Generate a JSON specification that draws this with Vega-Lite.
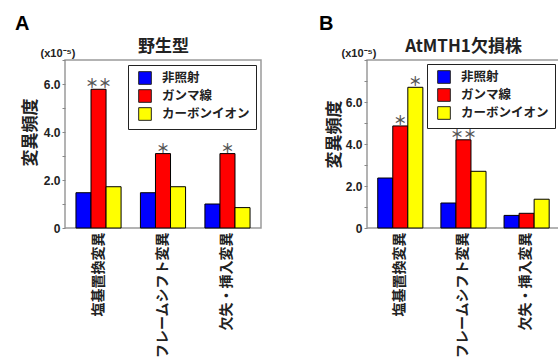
{
  "$schema": "https://vega.github.io/schema/vega-lite/v6.json",
  "padding": {"left": 14, "top": 13, "right": 0, "bottom": 0},
  "background": "white",
  "config": {
    "font": "Noto Sans CJK JP",
    "view": {"stroke": "#9a9a9a", "strokeWidth": 1.5},
    "axis": {"grid": false},
    "legend": {"title": null}
  },
  "datasets": {
    "wt": [
      {"mutation": "塩基置換変異", "treatment": "非照射", "value": 1.47, "sig": ""},
      {"mutation": "塩基置換変異", "treatment": "ガンマ線", "value": 5.78, "sig": "＊＊"},
      {"mutation": "塩基置換変異", "treatment": "カーボンイオン", "value": 1.72, "sig": ""},
      {"mutation": "フレームシフト変異", "treatment": "非照射", "value": 1.47, "sig": ""},
      {"mutation": "フレームシフト変異", "treatment": "ガンマ線", "value": 3.1, "sig": "＊"},
      {"mutation": "フレームシフト変異", "treatment": "カーボンイオン", "value": 1.72, "sig": ""},
      {"mutation": "欠失・挿入変異", "treatment": "非照射", "value": 1.0, "sig": ""},
      {"mutation": "欠失・挿入変異", "treatment": "ガンマ線", "value": 3.1, "sig": "＊"},
      {"mutation": "欠失・挿入変異", "treatment": "カーボンイオン", "value": 0.85, "sig": ""}
    ],
    "mut": [
      {"mutation": "塩基置換変異", "treatment": "非照射", "value": 2.38, "sig": ""},
      {"mutation": "塩基置換変異", "treatment": "ガンマ線", "value": 4.86, "sig": "＊"},
      {"mutation": "塩基置換変異", "treatment": "カーボンイオン", "value": 6.7, "sig": "＊"},
      {"mutation": "フレームシフト変異", "treatment": "非照射", "value": 1.19, "sig": ""},
      {"mutation": "フレームシフト変異", "treatment": "ガンマ線", "value": 4.2, "sig": "＊＊"},
      {"mutation": "フレームシフト変異", "treatment": "カーボンイオン", "value": 2.7, "sig": ""},
      {"mutation": "欠失・挿入変異", "treatment": "非照射", "value": 0.6, "sig": ""},
      {"mutation": "欠失・挿入変異", "treatment": "ガンマ線", "value": 0.7, "sig": ""},
      {"mutation": "欠失・挿入変異", "treatment": "カーボンイオン", "value": 1.37, "sig": ""}
    ]
  },
  "resolve": {"scale": {"color": "independent"}, "legend": {"color": "independent"}},
  "spacing": 56,
  "hconcat": [
    {
      "data": {"name": "wt"},
      "width": 196,
      "height": 168,
      "title": {"text": "A", "anchor": "start", "frame": "group", "dx": -50, "offset": 3, "font": "Liberation Sans", "fontSize": 20, "fontWeight": "bold", "color": "black"},
      "resolve": {"axis": {"x": "independent", "y": "independent"}},
      "layer": [
        {
          "mark": {"type": "bar", "stroke": "black", "strokeWidth": 1},
          "encoding": {
            "x": {"field": "mutation", "type": "nominal", "sort": ["塩基置換変異", "フレームシフト変異", "欠失・挿入変異"],
              "scale": {"paddingInner": 0.3, "paddingOuter": 0.17},
              "axis": {"title": null, "labelAngle": 270, "labelFontSize": 14, "labelFontWeight": "bold", "labelColor": "#222", "labelPadding": 4, "ticks": false, "domain": false}},
            "xOffset": {"field": "treatment", "type": "nominal", "sort": ["非照射", "ガンマ線", "カーボンイオン"], "scale": {"paddingInner": 0, "paddingOuter": 0}},
            "y": {"field": "value", "type": "quantitative", "scale": {"domain": [0, 7], "nice": false},
              "axis": {"values": [0, 1, 2, 3, 4, 5, 6, 7], "labelExpr": "datum.value == 0 ? '0' : (datum.value % 2 == 0 ? format(datum.value, '.1f') : '')",
                "domain": false, "tickSize": 3, "tickColor": "#888", "labelFont": "Liberation Sans", "labelFontSize": 12, "labelFontWeight": "bold", "labelColor": "#222", "labelPadding": 2,
                "title": "変異頻度", "titleFontSize": 17, "titleFontWeight": "bold", "titleColor": "#222", "titlePadding": 4, "titleY": 72}},
            "color": {"field": "treatment", "type": "nominal", "sort": ["非照射", "ガンマ線", "カーボンイオン"],
              "scale": {"domain": ["非照射", "ガンマ線", "カーボンイオン"], "range": ["#0000ff", "#ff0000", "#ffff00"]},
              "legend": {"orient": "top-right", "offset": 5, "symbolType": "square", "symbolSize": 160, "symbolStrokeColor": "#222", "symbolStrokeWidth": 1, "symbolOpacity": 1, "symbolOffset": 4,
                "labelFontSize": 12.5, "labelFontWeight": "bold", "labelColor": "#222", "labelOffset": 10, "rowPadding": 0,
                "strokeColor": "#222", "fillColor": "white", "padding": 6}}
          }
        },
        {
          "mark": {"type": "text", "baseline": "bottom", "dy": 2, "fontSize": 13, "fontWeight": "bold", "color": "#555"},
          "encoding": {
            "x": {"field": "mutation", "type": "nominal", "sort": ["塩基置換変異", "フレームシフト変異", "欠失・挿入変異"],
              "axis": {"orient": "top", "labels": false, "ticks": false, "domain": false, "title": "野生型", "titleFontSize": 17, "titleFontWeight": "bold", "titleColor": "#222", "titlePadding": 5}},
            "xOffset": {"field": "treatment", "type": "nominal", "sort": ["非照射", "ガンマ線", "カーボンイオン"]},
            "y": {"field": "value", "type": "quantitative",
              "axis": {"orient": "left", "labels": false, "ticks": false, "domain": false, "title": "(x10⁻⁵)", "titleAngle": 0, "titleFont": "Liberation Sans", "titleFontSize": 11, "titleFontWeight": "bold", "titleColor": "#222", "titleAlign": "left", "titleBaseline": "alphabetic", "titleX": -25, "titleY": -4}},
            "text": {"field": "sig"}
          }
        }
      ]
    },
    {
      "data": {"name": "mut"},
      "width": 192,
      "height": 168,
      "title": {"text": "B", "anchor": "start", "frame": "group", "dx": -48, "offset": 3, "font": "Liberation Sans", "fontSize": 20, "fontWeight": "bold", "color": "black"},
      "resolve": {"axis": {"x": "independent", "y": "independent"}},
      "layer": [
        {
          "mark": {"type": "bar", "stroke": "black", "strokeWidth": 1},
          "encoding": {
            "x": {"field": "mutation", "type": "nominal", "sort": ["塩基置換変異", "フレームシフト変異", "欠失・挿入変異"],
              "scale": {"paddingInner": 0.3, "paddingOuter": 0.17},
              "axis": {"title": null, "labelAngle": 270, "labelFontSize": 14, "labelFontWeight": "bold", "labelColor": "#222", "labelPadding": 4, "ticks": false, "domain": false}},
            "xOffset": {"field": "treatment", "type": "nominal", "sort": ["非照射", "ガンマ線", "カーボンイオン"], "scale": {"paddingInner": 0, "paddingOuter": 0}},
            "y": {"field": "value", "type": "quantitative", "scale": {"domain": [0, 8], "nice": false},
              "axis": {"values": [0, 1, 2, 3, 4, 5, 6, 7, 8], "labelExpr": "datum.value == 0 ? '0' : (datum.value % 2 == 0 && datum.value < 8 ? format(datum.value, '.1f') : '')",
                "domain": false, "tickSize": 3, "tickColor": "#888", "labelFont": "Liberation Sans", "labelFontSize": 12, "labelFontWeight": "bold", "labelColor": "#222", "labelPadding": 2,
                "title": "変異頻度", "titleFontSize": 17, "titleFontWeight": "bold", "titleColor": "#222", "titlePadding": 2, "titleY": 74}},
            "color": {"field": "treatment", "type": "nominal", "sort": ["非照射", "ガンマ線", "カーボンイオン"],
              "scale": {"domain": ["非照射", "ガンマ線", "カーボンイオン"], "range": ["#0000ff", "#ff0000", "#ffff00"]},
              "legend": {"orient": "top-right", "offset": 4, "symbolType": "square", "symbolSize": 160, "symbolStrokeColor": "#222", "symbolStrokeWidth": 1, "symbolOpacity": 1, "symbolOffset": 4,
                "labelFontSize": 12.5, "labelFontWeight": "bold", "labelColor": "#222", "labelOffset": 10, "rowPadding": 0,
                "strokeColor": "#222", "fillColor": "white", "padding": 6}}
          }
        },
        {
          "mark": {"type": "text", "baseline": "bottom", "dy": 2, "fontSize": 13, "fontWeight": "bold", "color": "#555"},
          "encoding": {
            "x": {"field": "mutation", "type": "nominal", "sort": ["塩基置換変異", "フレームシフト変異", "欠失・挿入変異"],
              "axis": {"orient": "top", "labels": false, "ticks": false, "domain": false, "title": "AtMTH1欠損株", "titleFontSize": 17, "titleFontWeight": "bold", "titleColor": "#222", "titlePadding": 5}},
            "xOffset": {"field": "treatment", "type": "nominal", "sort": ["非照射", "ガンマ線", "カーボンイオン"]},
            "y": {"field": "value", "type": "quantitative",
              "axis": {"orient": "left", "labels": false, "ticks": false, "domain": false, "title": "(x10⁻⁵)", "titleAngle": 0, "titleFont": "Liberation Sans", "titleFontSize": 11, "titleFontWeight": "bold", "titleColor": "#222", "titleAlign": "left", "titleBaseline": "alphabetic", "titleX": -26, "titleY": -4}},
            "text": {"field": "sig"}
          }
        }
      ]
    }
  ]
}
